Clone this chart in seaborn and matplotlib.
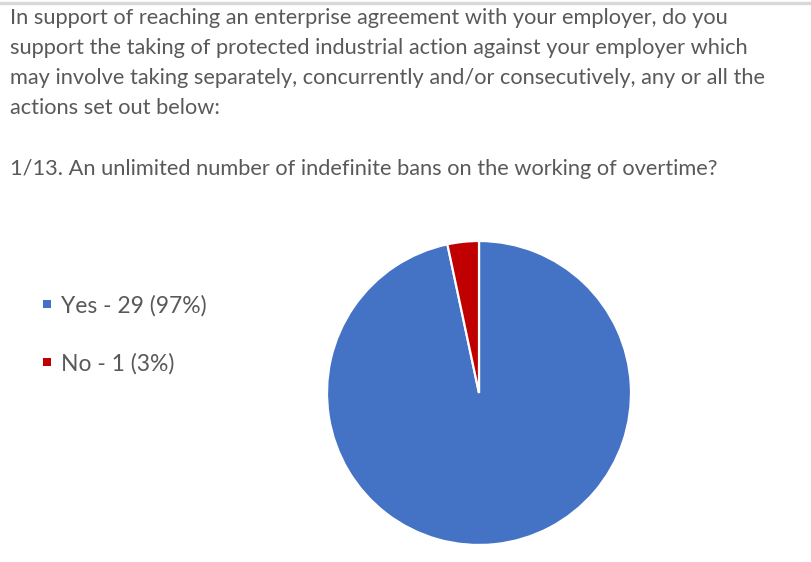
import matplotlib
matplotlib.use("Agg")
import matplotlib.pyplot as plt
import seaborn as sns
from matplotlib.lines import Line2D

categories = ["Yes", "No"]
counts = [29, 1]
percents = [97, 3]
colors = ["#4472C4", "#C00000"]
title_lines = [
    "In support of reaching an enterprise agreement with your employer, do you",
    "support the taking of protected industrial action against your employer which",
    "may involve taking separately, concurrently and/or consecutively, any or all the",
    "actions set out below:",
]
question = "1/13. An unlimited number of indefinite bans on the working of overtime?"

sns.set_theme(style="white")
plt.rcParams['font.family'] = ['Lato', 'DejaVu Sans']

W, H = 811, 562
fig = plt.figure(figsize=(W / 100, H / 100), dpi=100)
fig.patch.set_facecolor("white")

# top border line
fig.add_artist(Line2D([0, 1], [1 - 2.5 / H, 1 - 2.5 / H], color="#d9d9d9", lw=2.5))

txt_color = "#595959"
fs = 15.7
for i, line in enumerate(title_lines):
    fig.text(10 / W, 1 - (18.5 + 29.7 * i) / H, line, fontsize=fs, color=txt_color,
             va="center", ha="left")
fig.text(10 / W, 1 - 168.5 / H, question, fontsize=fs, color=txt_color, va="center", ha="left")

cx, cy, r = 479, 393, 152
ax = fig.add_axes([(cx - r) / W, (H - cy - r) / H, 2 * r / W, 2 * r / H])
wedges, _ = ax.pie(counts, colors=colors, startangle=90, counterclock=False,
                   wedgeprops=dict(edgecolor="white", linewidth=1.6))
ax.set_xlim(-1.0, 1.0)
ax.set_ylim(-1.0, 1.0)
ax.set_aspect("equal")
ax.axis("off")

labels = [f"{c} - {n} ({p}%)" for c, n, p in zip(categories, counts, percents)]
handles = [Line2D([], [], marker="s", linestyle="", color=c, markersize=5.2,
                  markeredgewidth=0) for c in colors]
leg = fig.legend(handles, labels, loc="center left", bbox_to_anchor=(44 / W, 1 - 334.5 / H),
                 frameon=False, fontsize=16.5, labelcolor=txt_color, borderpad=0,
                 borderaxespad=0,
                 handlelength=0.3, handletextpad=0.45, labelspacing=1.6)

fig.savefig("out.png", dpi=100, facecolor="white")
